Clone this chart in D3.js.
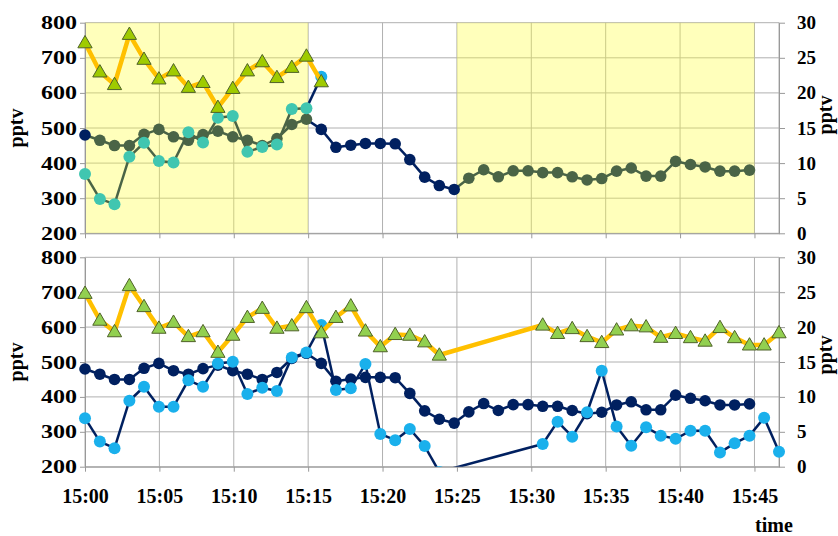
<!DOCTYPE html>
<html>
<head>
<meta charset="utf-8">
<script src="https://cdn.jsdelivr.net/npm/d3@7"></script>
<style>
body { margin: 0; background: #fff; }
svg { display: block; font-family: "Liberation Serif", "Times New Roman", serif; font-weight: bold; }
</style>
</head>
<body>
<svg id="chart"></svg>
<script>
// sample times (about one per minute)
let times = ['15:00:00','15:01:00','15:01:59','15:02:59','15:03:58','15:04:58','15:05:57','15:06:57',
  '15:07:56','15:08:56','15:09:56','15:10:55','15:11:55','15:12:54','15:13:54','15:14:53',
  '15:15:53','15:16:52','15:17:52','15:18:51','15:19:51','15:20:51','15:21:50','15:22:50',
  '15:23:49','15:24:49','15:25:48','15:26:48','15:27:47','15:28:47','15:29:47','15:30:46',
  '15:31:46','15:32:45','15:33:45','15:34:44','15:35:44','15:36:43','15:37:43','15:38:42',
  '15:39:42','15:40:42','15:41:41','15:42:41','15:43:40','15:44:40','15:45:39','15:46:39']

// left axis series (pptv, 200-800), same in both panels
let coSeries = [480,465,450,450,482,496,475,465,481,491,475,465,450,470,510,525,
  496,445,451,456,456,455,410,360,336,325,357,381,361,378,378,373,
  373,361,352,356,377,386,363,363,405,396,389,377,377,380]

// right axis series (pptv, 0-30), top panel
let topTriangles = [27.15,23.0,21.2,28.35,24.8,22.0,23.15,20.8,21.5,17.95,20.65,23.15,24.45,22.2,23.65,25.25,21.6]
let topCircles = [8.45,4.9,4.15,10.9,12.9,10.3,10.1,14.4,12.95,16.45,16.7,11.6,12.3,12.65,17.7,17.8,22.3]

// right axis series (pptv, 0-30), bottom panel
let bottomTriangles = [24.85,21.0,19.35,25.95,22.95,19.85,20.7,18.65,19.35,16.4,18.85,21.4,22.7,19.85,20.2,22.8,
  19.2,21.4,23.05,19.45,17.2,18.95,18.85,17.9,16.0,null,null,null,null,null,null,20.3,
  19.1,19.8,18.65,17.8,19.6,20.2,20.05,18.55,19.1,18.5,18.0,19.95,18.5,17.45,17.45,19.2]
let bottomCircles = [6.95,3.6,2.65,9.45,11.45,8.6,8.6,12.4,11.45,14.8,15.05,10.4,11.3,10.85,15.65,16.35,
  20.3,11.0,11.25,14.7,4.7,3.8,5.4,2.95,-0.75,null,null,null,null,null,null,3.25,
  6.45,4.3,7.8,13.75,5.75,3.0,5.65,4.45,4.0,5.15,5.15,2.05,3.35,4.45,7.0,2.15]

let shadedRanges = [['15:00:00','15:15:00'], ['15:25:00','15:45:00']]
let leftTicks = [200,300,400,500,600,700,800]
let rightTicks = [0,5,10,15,20,25,30]
let timeTicks = ['15:00','15:05','15:10','15:15','15:20','15:25','15:30','15:35','15:40','15:45']

let width = 838
let height = 536
let left = 85
let right = 779

let parseTime = d3.timeParse('%H:%M:%S')
let parseTick = d3.timeParse('%H:%M')
let tDates = times.map(parseTime)

let svg = d3.select('#chart').attr('width', width).attr('height', height)

let xScale = d3.scaleTime()
  .domain([tDates[0], tDates[tDates.length - 1]])
  .range([left, right])

let gridColor = '#b0b0b0'
let navy = '#002060'
let green = '#4a6446'

// first sample sits on the range start and stays navy in the original
let isShaded = (d) => shadedRanges.some(r => d > parseTime(r[0]) && d <= parseTime(r[1]))

let drawPanel = (p, idx) => {
  let g = svg.append('g')
  let yLeft = d3.scaleLinear().domain([200, 800]).range([p.y1, p.y0])
  let yRight = d3.scaleLinear().domain([0, 30]).range([p.y1, p.y0])

  let clipId = 'clip' + idx
  svg.append('clipPath').attr('id', clipId)
    .append('rect').attr('x', left - 8).attr('y', p.y0 - 8)
    .attr('width', right - left + 16).attr('height', p.y1 - p.y0 + 8)

  // grid
  g.selectAll('.hg').data(leftTicks).enter().append('line')
    .attr('x1', left).attr('x2', right)
    .attr('y1', d => yLeft(d)).attr('y2', d => yLeft(d))
    .attr('stroke', gridColor).attr('stroke-width', 1)
  g.selectAll('.vg').data(timeTicks).enter().append('line')
    .attr('x1', d => xScale(parseTick(d))).attr('x2', d => xScale(parseTick(d)))
    .attr('y1', p.y0).attr('y2', p.y1)
    .attr('stroke', gridColor).attr('stroke-width', 1)
  g.append('line').attr('x1', right).attr('x2', right).attr('y1', p.y0).attr('y2', p.y1)
    .attr('stroke', gridColor)

  // shaded periods
  if (p.shade) {
    g.selectAll('.shade').data(shadedRanges).enter().append('rect')
      .attr('x', d => xScale(parseTime(d[0])))
      .attr('width', d => xScale(parseTime(d[1])) - xScale(parseTime(d[0])))
      .attr('y', p.y0).attr('height', p.y1 - p.y0)
      .attr('fill', '#ffff38').attr('fill-opacity', 0.34)
  }

  // axes
  let axL = g.append('g').attr('transform', 'translate(' + left + ',0)')
    .call(d3.axisLeft(yLeft).tickValues(leftTicks).tickSize(5).tickSizeOuter(0).tickPadding(3))
  let axR = g.append('g').attr('transform', 'translate(' + right + ',0)')
    .call(d3.axisRight(yRight).tickValues(rightTicks).tickSize(6).tickSizeOuter(0).tickPadding(12))
  let axB = g.append('g').attr('transform', 'translate(0,' + p.y1 + ')')
    .call(d3.axisBottom(xScale).tickValues(timeTicks.map(parseTick)).tickSize(5).tickSizeOuter(0)
      .tickPadding(17).tickFormat(p.labels ? d3.timeFormat('%H:%M') : ''))
  ;[axL, axR, axB].forEach(a => {
    a.select('.domain').attr('stroke', '#999')
    a.selectAll('.tick line').attr('stroke', '#999')
    a.selectAll('text').attr('fill', '#000').style('font-family', '"Liberation Serif", serif')
      .style('font-weight', 'bold').style('font-size', '19px')
  })
  axB.selectAll('text').style('font-size', '20px')
  axL.selectAll('text').attr('textLength', 36).attr('lengthAdjust', 'spacingAndGlyphs')

  g.append('text').attr('transform', 'translate(23,' + p.titleL + ') rotate(-90)')
    .attr('text-anchor', 'middle').style('font-size', '20px').text('pptv')
  g.append('text').attr('transform', 'translate(832,' + p.titleR + ') rotate(-90)')
    .attr('text-anchor', 'middle').style('font-size', '20px').text('pptv')

  let plot = g.append('g').attr('clip-path', 'url(#' + clipId + ')')

  // left-axis series
  let coPts = coSeries.map((v, i) => ({ t: tDates[i], v: v }))
  let segs = d3.pairs(coPts)
  plot.selectAll('.coSeg').data(segs).enter().append('line')
    .attr('x1', d => xScale(d[0].t)).attr('y1', d => yLeft(d[0].v))
    .attr('x2', d => xScale(d[1].t)).attr('y2', d => yLeft(d[1].v))
    .attr('stroke', d => (p.shade && isShaded(d[1].t)) ? green : navy)
    .attr('stroke-width', 2.5)
  plot.selectAll('.coDot').data(coPts).enter().append('circle')
    .attr('cx', d => xScale(d.t)).attr('cy', d => yLeft(d.v)).attr('r', 5.8)
    .attr('fill', d => (p.shade && isShaded(d.t)) ? green : navy)

  // right-axis circles
  let cPts = p.circles.map((v, i) => ({ t: tDates[i], v: v })).filter(d => d.v != null)
  plot.selectAll('.cSeg').data(d3.pairs(cPts)).enter().append('line')
    .attr('x1', d => xScale(d[0].t)).attr('y1', d => yRight(d[0].v))
    .attr('x2', d => xScale(d[1].t)).attr('y2', d => yRight(d[1].v))
    .attr('stroke', d => (p.shade && isShaded(d[1].t)) ? green : navy)
    .attr('stroke-width', 2.5)
  plot.selectAll('.cDot').data(cPts).enter().append('circle')
    .attr('cx', d => xScale(d.t)).attr('cy', d => yRight(d.v)).attr('r', 6)
    .attr('fill', d => (p.shade && d.t < tDates[16]) ? '#40c6b0' : '#1ab0ec')

  // right-axis triangles
  let tPts = p.triangles.map((v, i) => ({ t: tDates[i], v: v })).filter(d => d.v != null)
  plot.append('path').datum(tPts)
    .attr('d', d3.line().x(d => xScale(d.t)).y(d => yRight(d.v)))
    .attr('fill', 'none').attr('stroke', '#ffc000').attr('stroke-width', 4.5)
    .attr('stroke-linejoin', 'round')
  plot.selectAll('.tri').data(tPts).enter().append('path')
    .attr('d', d3.symbol().type(d3.symbolTriangle).size(88))
    .attr('transform', d => 'translate(' + xScale(d.t) + ',' + (yRight(d.v) + 1) + ')')
    .attr('fill', p.triColor).attr('stroke', '#4f6228').attr('stroke-width', 1)
}

drawPanel({ y0: 22.7, y1: 233.3, shade: true, labels: false, titleL: 128, titleR: 115,
  circles: topCircles, triangles: topTriangles, triColor: '#9fcb00' }, 0)
drawPanel({ y0: 257.3, y1: 466.7, shade: false, labels: true, titleL: 362, titleR: 355,
  circles: bottomCircles, triangles: bottomTriangles, triColor: '#92d050' }, 1)

svg.append('text').attr('x', 774).attr('y', 532).attr('text-anchor', 'middle')
  .style('font-size', '20px').text('time')
</script>
</body>
</html>
